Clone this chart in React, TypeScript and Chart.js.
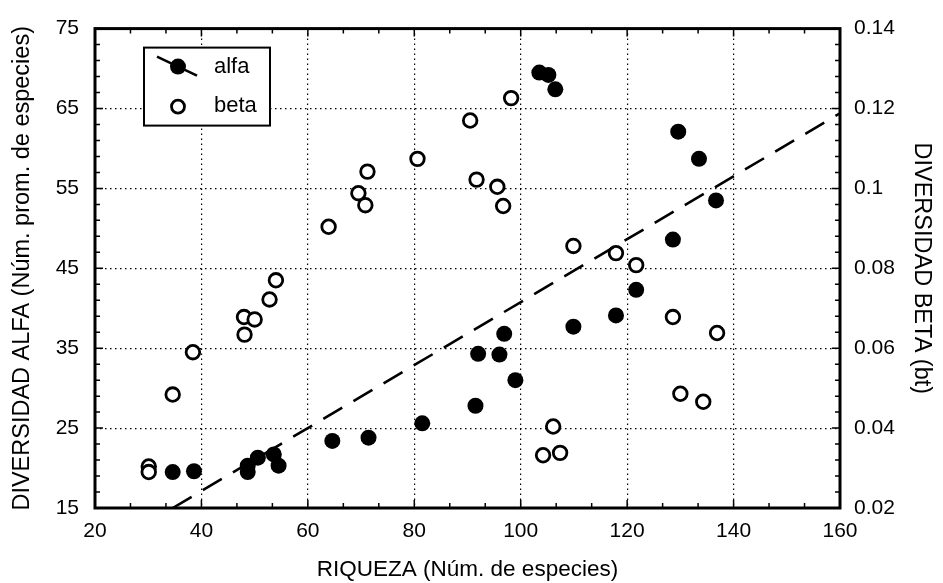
import React, { useEffect, useRef } from "react";
import { Chart, registerables } from "chart.js";

Chart.register(...registerables);

// ---- Data ----
const alfaX = [34.6, 38.6, 48.7, 48.7, 50.6, 53.6, 54.5, 64.6, 71.4, 81.5, 91.5, 99.0, 92.0, 96.0, 96.9, 109.9, 117.9, 121.7, 128.6, 136.7, 129.6, 133.5, 103.5, 105.2, 106.5];
const alfaY = [19.5, 19.6, 20.3, 19.5, 21.3, 21.7, 20.3, 23.4, 23.8, 25.6, 27.8, 31.0, 34.3, 34.2, 36.8, 37.7, 39.1, 42.3, 48.6, 53.5, 62.1, 58.7, 69.5, 69.2, 67.4];

const betaX = [30.1, 30.1, 34.6, 38.4, 48.1, 48.0, 50.0, 52.8, 54.0, 63.9, 69.5, 70.8, 71.2, 80.6, 90.5, 98.2, 91.7, 95.6, 96.7, 109.9, 117.9, 121.7, 128.6, 136.9, 130.0, 134.3, 106.1, 104.2, 107.4];
const betaY = [0.0304, 0.029, 0.0484, 0.059, 0.0634, 0.0678, 0.0672, 0.0722, 0.077, 0.0904, 0.0988, 0.0958, 0.1042, 0.1074, 0.117, 0.1226, 0.1022, 0.1004, 0.0956, 0.0856, 0.0838, 0.0808, 0.0678, 0.0638, 0.0486, 0.0466, 0.0404, 0.0332, 0.0338];

const trendX = [34.6, 160];
const trendY = [15, 64.4];

const xTickValues = [20, 40, 60, 80, 100, 120, 140, 160];
const leftTickValues = [15, 25, 35, 45, 55, 65, 75];
const rightTickValues = [0.02, 0.04, 0.06, 0.08, 0.1, 0.12, 0.14];
const rightTickLabels = ["0.02", "0.04", "0.06", "0.08", "0.1", "0.12", "0.14"];

const legendLabels = ["alfa", "beta"];
const xTitle = "RIQUEZA (Núm. de especies)";
const leftTitle = "DIVERSIDAD ALFA (Núm. prom. de especies)";
const rightTitle = "DIVERSIDAD BETA (bt)";

const FONT = '"Liberation Sans", Arial, Helvetica, sans-serif';

const framePlugin = {
  id: "frameAndLegend",
  afterDraw(chart: any) {
    const { ctx, chartArea: a, scales } = chart;
    const xs = scales.x, yl = scales.y, yr = scales.y1;
    ctx.save();
    ctx.strokeStyle = "#000";
    // minor ticks
    ctx.lineWidth = 1.5;
    ctx.beginPath();
    for (let v = 15; v <= 75.001; v += 2) {
      const y = yl.getPixelForValue(v);
      const len = Math.abs((v - 15) % 10) < 0.01 ? 8 : 5;
      ctx.moveTo(a.left, y);
      ctx.lineTo(a.left + len, y);
    }
    for (let i = 0; i <= 30; i++) {
      const v = 0.02 + i * 0.004;
      const y = yr.getPixelForValue(v);
      const len = i % 5 === 0 ? 8 : 5;
      ctx.moveTo(a.right, y);
      ctx.lineTo(a.right - len, y);
    }
    for (let i = 0; i <= 21; i++) {
      const v = 20 + (i * 20) / 3;
      const x = xs.getPixelForValue(v);
      const len = i % 3 === 0 ? 8 : 5;
      ctx.moveTo(x, a.bottom);
      ctx.lineTo(x, a.bottom - len);
      ctx.moveTo(x, a.top);
      ctx.lineTo(x, a.top + len);
    }
    ctx.stroke();
    // frame
    ctx.lineWidth = 3;
    ctx.strokeRect(a.left, a.top, a.right - a.left, a.bottom - a.top);

    // legend box
    const x0 = a.left + 49, y0 = a.top + 19, w = 126, h = 78;
    ctx.fillStyle = "#fff";
    ctx.fillRect(x0, y0, w, h);
    ctx.lineWidth = 2;
    ctx.strokeRect(x0, y0, w, h);
    // alfa symbol
    ctx.lineWidth = 2.5;
    ctx.beginPath();
    ctx.moveTo(x0 + 13, y0 + 9);
    ctx.lineTo(x0 + 53, y0 + 28);
    ctx.stroke();
    ctx.fillStyle = "#000";
    ctx.beginPath();
    ctx.arc(x0 + 34, y0 + 19, 8, 0, Math.PI * 2);
    ctx.fill();
    // beta symbol
    ctx.lineWidth = 2.8;
    ctx.beginPath();
    ctx.arc(x0 + 34, y0 + 59, 6.5, 0, Math.PI * 2);
    ctx.stroke();
    ctx.font = "22px " + FONT;
    ctx.textBaseline = "middle";
    ctx.textAlign = "left";
    ctx.fillText(legendLabels[0], x0 + 70, y0 + 19);
    ctx.fillText(legendLabels[1], x0 + 70, y0 + 58);
    ctx.restore();
  },
};

export default function App() {
  const ref = useRef<HTMLCanvasElement | null>(null);
  useEffect(() => {
    if (!ref.current) return;
    const chart = new Chart(ref.current, {
      type: "scatter",
      data: {
        datasets: [
          {
            type: "line",
            label: "trend",
            data: trendX.map((x, i) => ({ x, y: trendY[i] })),
            yAxisID: "y",
            borderColor: "#000",
            borderWidth: 2.6,
            borderDash: [22, 13],
            pointRadius: 0,
            fill: false,
          } as any,
          {
            label: legendLabels[0],
            data: alfaX.map((x, i) => ({ x, y: alfaY[i] })),
            yAxisID: "y",
            backgroundColor: "#000",
            borderColor: "#000",
            pointRadius: 8,
            pointBorderWidth: 0,
          },
          {
            label: legendLabels[1],
            data: betaX.map((x, i) => ({ x, y: betaY[i] })),
            yAxisID: "y1",
            backgroundColor: "#fff",
            borderColor: "#000",
            pointRadius: 6.8,
            pointBorderWidth: 2.8,
          },
        ],
      },
      options: {
        animation: false,
        responsive: false,
        devicePixelRatio: 1,
        layout: { padding: { top: 22, left: 0, right: 0, bottom: 0 } },
        plugins: { legend: { display: false }, tooltip: { enabled: false } },
        scales: {
          x: {
            type: "linear",
            position: "bottom",
            min: 20,
            max: 160,
            afterBuildTicks: (s: any) => { s.ticks = xTickValues.map((v) => ({ value: v })); },
            afterFit: (s: any) => { s.height = 75; },
            ticks: { color: "#000", font: { family: FONT, size: 21 }, padding: 11, maxRotation: 0 },
            grid: { color: "#000", lineWidth: 1.2, drawTicks: false },
            border: { display: false, dash: [1.5, 3.5] },
            title: { display: true, text: xTitle, color: "#000", font: { family: FONT, size: 22.5 }, padding: { top: 0, bottom: 0 } },
          },
          y: {
            type: "linear",
            position: "left",
            min: 15,
            max: 75,
            afterBuildTicks: (s: any) => { s.ticks = leftTickValues.map((v) => ({ value: v })); },
            afterFit: (s: any) => { s.width = 95; },
            ticks: { color: "#000", font: { family: FONT, size: 21 }, padding: 16 },
            grid: { color: "#000", lineWidth: 1.2, drawTicks: false },
            border: { display: false, dash: [1.5, 3.5] },
            title: { display: true, text: leftTitle, color: "#000", font: { family: FONT, size: 23.5 }, padding: { top: 8, bottom: 0 } },
          },
          y1: {
            type: "linear",
            position: "right",
            min: 0.02,
            max: 0.14,
            afterBuildTicks: (s: any) => { s.ticks = rightTickValues.map((v) => ({ value: v })); },
            afterFit: (s: any) => { s.width = 103; },
            ticks: {
              color: "#000",
              font: { family: FONT, size: 21 },
              padding: 14,
              callback: (v: any) => {
                const i = rightTickValues.findIndex((t) => Math.abs(t - Number(v)) < 1e-6);
                return i >= 0 ? rightTickLabels[i] : "";
              },
            },
            grid: { display: false, drawTicks: false },
            border: { display: false },
            title: { display: true, text: rightTitle, color: "#000", font: { family: FONT, size: 23.5 }, padding: { top: 7, bottom: 0 } },
          },
        },
      },
      plugins: [framePlugin],
    } as any);
    return () => chart.destroy();
  }, []);
  return (
    <div style={{ position: "fixed", left: 0, top: 0, width: 943, height: 583, background: "#fff" }}>
      <canvas ref={ref} width={943} height={583} style={{ display: "block" }} />
    </div>
  );
}
